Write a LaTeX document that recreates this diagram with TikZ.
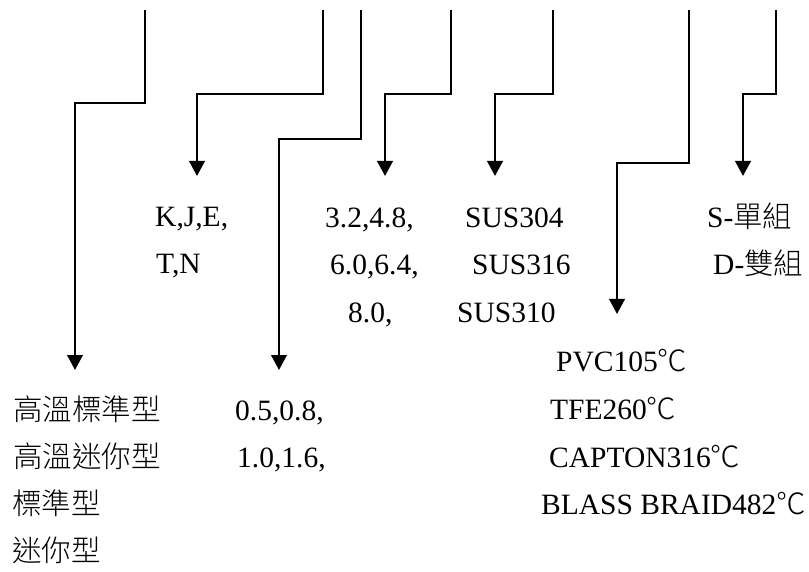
\documentclass[tikz,border=0pt]{standalone}
\usepackage{fontspec}
\setmainfont{Liberation Serif}
\newfontfamily\cjk{Noto Sans CJK TC}[UprightFont=* Light]
\usetikzlibrary{arrows.meta}
\begin{document}
\begin{tikzpicture}[x=1pt,y=-1pt,
  lbl/.style={anchor=base west, inner sep=0pt, font=\fontsize{29.5}{30}\selectfont},
  conn/.style={line width=2.3pt, -{Triangle[width=15.5pt,length=15pt]}}]
\useasboundingbox (0,0) rectangle (809,572);
% connector points
\coordinate (t1) at (145,10); \coordinate (c1) at (75,103);  \coordinate (e1) at (75,370);
\coordinate (t2) at (323,10); \coordinate (c2) at (197,94);  \coordinate (e2) at (197,176);
\coordinate (t3) at (361,10); \coordinate (c3) at (279,139); \coordinate (e3) at (279,370);
\coordinate (t4) at (451,10); \coordinate (c4) at (385,94);  \coordinate (e4) at (385,176);
\coordinate (t5) at (553,10); \coordinate (c5) at (495,94);  \coordinate (e5) at (495,176);
\coordinate (t6) at (689,10); \coordinate (c6) at (617,163); \coordinate (e6) at (617,314);
\coordinate (t7) at (776,10); \coordinate (c7) at (743,94);  \coordinate (e7) at (743,176);
\foreach \i in {1,...,7} {\draw[conn] (t\i) |- (c\i) -- (e\i);}
% texts
\node[lbl] (kje) at (155,227) {K,J,E,};
\node[lbl] (tn)  at (156,274) {T,N};
\node[lbl] (d1) at (325,228) {3.2,4.8,};
\node[lbl] (d2) at (330,275) {6.0,6.4,};
\node[lbl] (d3) at (348,322) {8.0,};
\node[lbl] (s1) at (465,228) {SUS304};
\node[lbl] (s2) at (472,275) {SUS316};
\node[lbl] (s3) at (457,322) {SUS310};
\node[lbl] (g1) at (707,228) {S-{\cjk 單組}};
\node[lbl] (g2) at (713,275) {D-{\cjk 雙組}};
\node[lbl] (p1) at (556,371) {PVC105{\cjk ℃}};
\node[lbl] (p2) at (550,419) {TFE260{\cjk ℃}};
\node[lbl] (p3) at (549,467) {CAPTON316{\cjk ℃}};
\node[lbl] (p4) at (541,514) {BLASS BRAID482{\cjk ℃}};
\node[lbl] (h1) at (13,420) {\cjk 高溫標準型};
\node[lbl] (h2) at (13,467) {\cjk 高溫迷你型};
\node[lbl] (h3) at (12,514) {\cjk 標準型};
\node[lbl] (h4) at (12,561) {\cjk 迷你型};
\node[lbl] (w1) at (235,420) {0.5,0.8,};
\node[lbl] (w2) at (237,467) {1.0,1.6,};
\end{tikzpicture}
\end{document}
